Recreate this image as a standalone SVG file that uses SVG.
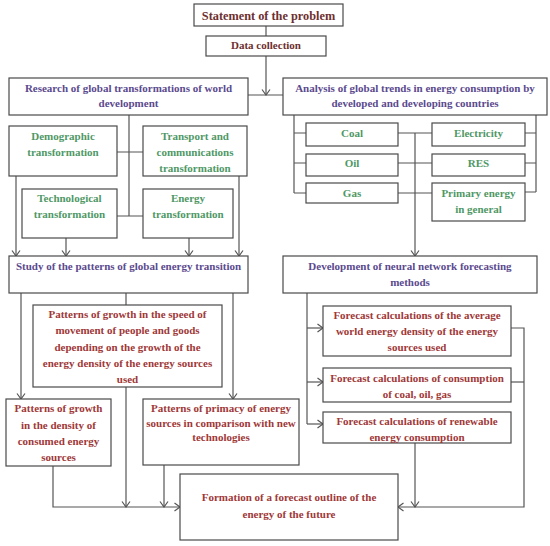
<svg xmlns="http://www.w3.org/2000/svg" width="550" height="546" viewBox="0 0 550 546">
<defs>
<style>
.box{fill:#fff;stroke:#4a4a4a;stroke-width:1.2}
text{font-family:"Liberation Serif","Times New Roman",serif;font-weight:bold;font-size:11px;text-anchor:middle}
.brown{fill:#6e2f2f}
.purple{fill:#5b4a8e}
.green{fill:#4f9866}
.red{fill:#a03838}
.ln{fill:none;stroke:#555;stroke-width:1.2}
.ar{marker-end:url(#arr)}
</style>
<marker id="arr" markerUnits="userSpaceOnUse" markerWidth="12" markerHeight="12" viewBox="-7 -6 8 12" refX="0" refY="0" orient="auto">
<path d="M-5.5,-4 L0,0 L-5.5,4" fill="none" stroke="#555" stroke-width="1.2"/>
</marker>
</defs>
<rect width="550" height="546" fill="#fff"/>

<g id="connectors">
<path class="ln" d="M266,26 V36"/>
<path class="ln ar" d="M266,56 V95"/>
<path class="ln" d="M248,95 H284"/>
<path class="ln" d="M129,115 V216 M117,152 H143 M117,216 H143"/>
<path class="ln ar" d="M16,176 V256"/>
<path class="ln ar" d="M66,238 V256"/>
<path class="ln ar" d="M189,238 V256"/>
<path class="ln ar" d="M239,176 V256"/>
<path class="ln" d="M294,115 V193 M294,133 H306 M294,163 H306 M294,193 H306"/>
<path class="ln" d="M536,115 V192 M525,133 H536 M525,163 H536 M525,192 H536"/>
<path class="ln" d="M398,133 H432 M398,163 H432 M398,193 H432"/>
<path class="ln ar" d="M415,133 V256"/>
<path class="ln ar" d="M21,293 V399"/>
<path class="ln ar" d="M233,293 V399"/>
<path class="ln" d="M126,293 V305"/>
<path class="ln ar" d="M126,387 V507"/>
<path class="ln ar" d="M53,466 V507 H180"/>
<path class="ln ar" d="M164,465 V507"/>
<path class="ln" d="M307,293 V424"/>
<path class="ln ar" d="M307,328 H323"/>
<path class="ln ar" d="M307,382 H323"/>
<path class="ln ar" d="M307,424 H323"/>
<path class="ln ar" d="M511,328 H524 V507 H398"/>
<path class="ln" d="M511,382 H524"/>
<path class="ln ar" d="M415,443 V507"/>
</g>

<g id="statement"><rect class="box" x="194" y="4" width="149" height="22"/><text class="brown" x="268.5" y="19.5" style="font-size:12.3px">Statement of the problem</text></g>
<g id="data"><rect class="box" x="206" y="36" width="120" height="20"/><text class="brown" x="266" y="49">Data collection</text></g>

<g id="research"><rect class="box" x="9" y="78" width="239" height="37"/><text class="purple" x="128.5" y="91.5">Research of global transformations of world</text><text class="purple" x="128.5" y="107">development</text></g>
<g id="analysis"><rect class="box" x="283" y="78" width="264" height="37"/><text class="purple" x="415" y="91.5">Analysis of global trends in energy consumption by</text><text class="purple" x="415" y="107">developed and developing countries</text></g>

<g id="demographic"><rect class="box" x="9" y="126" width="108" height="50"/><text class="green" x="63" y="140">Demographic</text><text class="green" x="63" y="156">transformation</text></g>
<g id="transport"><rect class="box" x="143" y="126" width="104" height="50"/><text class="green" x="195" y="140">Transport and</text><text class="green" x="195" y="156">communications</text><text class="green" x="195" y="172">transformation</text></g>
<g id="technological"><rect class="box" x="22" y="189" width="95" height="49"/><text class="green" x="69.5" y="202">Technological</text><text class="green" x="69.5" y="218">transformation</text></g>
<g id="energy"><rect class="box" x="143" y="189" width="90" height="49"/><text class="green" x="188" y="202">Energy</text><text class="green" x="188" y="218">transformation</text></g>

<g id="coal"><rect class="box" x="306" y="123" width="92" height="23"/><text class="green" x="352" y="137">Coal</text></g>
<g id="oil"><rect class="box" x="306" y="154" width="92" height="22"/><text class="green" x="352" y="167">Oil</text></g>
<g id="gas"><rect class="box" x="306" y="183" width="92" height="20"/><text class="green" x="352" y="197">Gas</text></g>
<g id="electricity"><rect class="box" x="432" y="123" width="93" height="23"/><text class="green" x="478.5" y="137">Electricity</text></g>
<g id="res"><rect class="box" x="432" y="154" width="93" height="22"/><text class="green" x="478.5" y="167">RES</text></g>
<g id="primary"><rect class="box" x="432" y="183" width="93" height="38"/><text class="green" x="478.5" y="197">Primary energy</text><text class="green" x="478.5" y="213">in general</text></g>

<g id="study"><rect class="box" x="9" y="256" width="239" height="37"/><text class="purple" x="128.5" y="270">Study of the patterns of global energy transition</text></g>
<g id="development"><rect class="box" x="283" y="256" width="254" height="37"/><text class="purple" x="410" y="270">Development of neural network forecasting</text><text class="purple" x="410" y="286">methods</text></g>

<g id="speed"><rect class="box" x="33" y="305" width="189" height="82"/><text class="red" x="127.5" y="318">Patterns of growth in the speed of</text><text class="red" x="127.5" y="334">movement of people and goods</text><text class="red" x="127.5" y="351">depending on the growth of the</text><text class="red" x="127.5" y="367">energy density of the energy sources</text><text class="red" x="127.5" y="383">used</text></g>

<g id="density"><rect class="box" x="6" y="399" width="105" height="67"/><text class="red" x="58.5" y="412">Patterns of growth</text><text class="red" x="58.5" y="429">in the density of</text><text class="red" x="58.5" y="445">consumed energy</text><text class="red" x="58.5" y="461">sources</text></g>
<g id="primacy"><rect class="box" x="143" y="399" width="156" height="66"/><text class="red" x="221" y="412">Patterns of primacy of energy</text><text class="red" x="221" y="426.5">sources in comparison with new</text><text class="red" x="221" y="441">technologies</text></g>

<g id="forecast1"><rect class="box" x="323" y="306" width="188" height="50"/><text class="red" x="417" y="319">Forecast calculations of the average</text><text class="red" x="417" y="335">world energy density of the energy</text><text class="red" x="417" y="351">sources used</text></g>
<g id="forecast2"><rect class="box" x="323" y="368" width="188" height="34"/><text class="red" x="417" y="382">Forecast calculations of consumption</text><text class="red" x="417" y="398">of coal, oil, gas</text></g>
<g id="forecast3"><rect class="box" x="323" y="412" width="188" height="31"/><text class="red" x="417" y="425">Forecast calculations of renewable</text><text class="red" x="417" y="441">energy consumption</text></g>

<g id="formation"><rect class="box" x="180" y="474" width="218" height="66"/><text class="red" x="289" y="501">Formation of a forecast outline of the</text><text class="red" x="289" y="518">energy of the future</text></g>
</svg>
